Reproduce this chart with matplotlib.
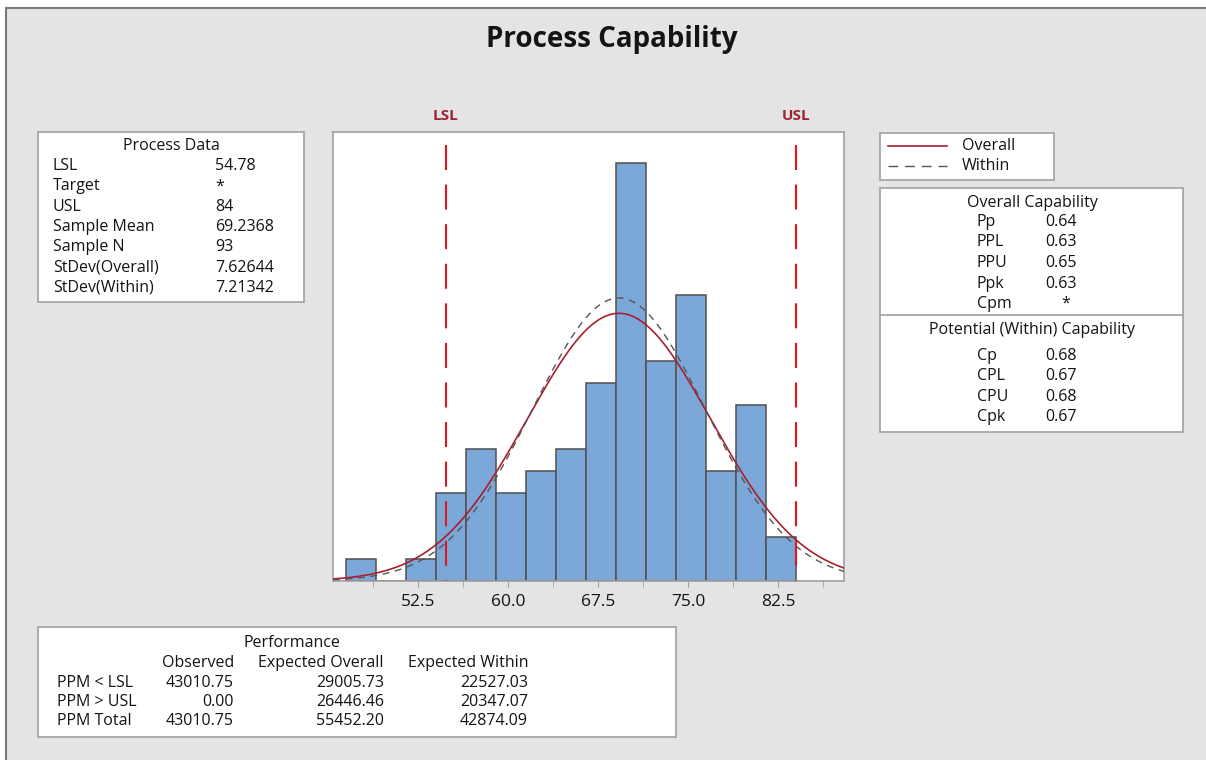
import matplotlib

matplotlib.use("Agg")
import matplotlib.pyplot as plt
import numpy as np
from matplotlib.lines import Line2D
from matplotlib.patches import Rectangle

W, H = 1206, 760
plt.rcParams.update({"font.family": ["Open Sans", "DejaVu Sans"], "font.size": 11.5})

# histogram (counts per 2.5-wide bin)
bin_edges = [46.5, 49.0, 51.5, 54.0, 56.5, 59.0, 61.5, 64.0, 66.5, 69.0,
             71.5, 74.0, 76.5, 79.0, 81.5, 84.0]
counts = [1, 0, 1, 4, 6, 4, 5, 6, 9, 19, 10, 13, 5, 8, 2]

LSL, USL = 54.78, 84.0
mean, n = 69.2368, 93
sd_overall, sd_within = 7.62644, 7.21342

process_labels = ["LSL", "Target", "USL", "Sample Mean", "Sample N",
                  "StDev(Overall)", "StDev(Within)"]
process_values = ["54.78", "*", "84", "69.2368", "93", "7.62644", "7.21342"]

overall_labels = ["Pp", "PPL", "PPU", "Ppk", "Cpm"]
overall_values = ["0.64", "0.63", "0.65", "0.63", "*"]
within_labels = ["Cp", "CPL", "CPU", "Cpk"]
within_values = ["0.68", "0.67", "0.68", "0.67"]

perf_rows = ["PPM < LSL", "PPM > USL", "PPM Total"]
perf_cols = ["Observed", "Expected Overall", "Expected Within"]
perf_observed = ["43010.75", "0.00", "43010.75"]
perf_overall = ["29005.73", "26446.46", "55452.20"]
perf_within = ["22527.03", "20347.07", "42874.09"]

TXT = "#141414"
BOX_EDGE = "#a0a0a0"


def fx(x):
    return x / W


def fy(y):
    return 1 - y / H


def box(fig, x0, y0, x1, y1):
    fig.patches.append(Rectangle((fx(x0), fy(y1)), fx(x1 - x0), (y1 - y0) / H,
                                 transform=fig.transFigure, facecolor="white",
                                 edgecolor=BOX_EDGE, lw=1.2, zorder=1))


def text(fig, x, y, s, **kw):
    kw.setdefault("va", "center")
    kw.setdefault("color", TXT)
    fig.text(fx(x), fy(y), s, zorder=3, **kw)


fig = plt.figure(figsize=(W / 100, H / 100), dpi=100, facecolor="white")
# grey panel with a dark top/left border
fig.patches.append(Rectangle((fx(6), -0.01), 1, fy(7.5) + 0.01, transform=fig.transFigure,
                             facecolor="#e4e4e4", edgecolor="#7a7a7a", lw=1.5, zorder=-5))

text(fig, 612, 40, "Process Capability", ha="center", fontsize=20, fontweight="bold")

# histogram panel
ax = fig.add_axes([fx(333), fy(581), fx(844 - 333), (581 - 132) / H])
ax.set_zorder(2)
ax.bar(bin_edges[:-1], counts, width=np.diff(bin_edges), align="edge",
       color="#7ba7d9", edgecolor="#505050", lw=1.1, zorder=2)
xs = np.linspace(45.4, 88.0, 400)
scale = n * (bin_edges[1] - bin_edges[0])
for sd, style in [(sd_overall, dict(color="#a8202f", lw=1.2)),
                  (sd_within, dict(color="#555555", lw=1.0, dashes=(5, 4)))]:
    ys = scale / (sd * np.sqrt(2 * np.pi)) * np.exp(-0.5 * ((xs - mean) / sd) ** 2)
    ax.plot(xs, ys, zorder=3, **style)
xt = ax.get_xaxis_transform()
for v, lab in [(LSL, "LSL"), (USL, "USL")]:
    # draw top-down so the dash pattern starts at the top
    ax.plot([v, v], [0.971, 0.0], transform=xt, color="#e3141c", lw=1.5,
            dashes=(12, 7), zorder=4, clip_on=False)
    ax.text(v, 1.035, lab, transform=xt, ha="center", va="center",
            color="#9b2335", fontsize=11, fontweight="bold")
ax.set_xlim(45.4, 88.0)
ax.set_ylim(0, 20.4)
ax.set_yticks([])
ax.set_xticks([52.5, 60.0, 67.5, 75.0, 82.5])
ax.set_xticklabels(["52.5", "60.0", "67.5", "75.0", "82.5"])
ax.set_xticks(np.arange(48.75, 88, 7.5), minor=True)
ax.tick_params(axis="x", which="both", length=4, color="#a0a0a0", labelsize=12.5,
               labelcolor=TXT, pad=5)
for sp in ax.spines.values():
    sp.set_color("#a0a0a0")
    sp.set_linewidth(1.2)

# process data box
box(fig, 38, 132, 304, 302)
text(fig, 171, 146, "Process Data", ha="center")
for i, (lab, val) in enumerate(zip(process_labels, process_values)):
    y = 166 + i * 20.3
    text(fig, 53, y, lab)
    text(fig, 215, y, val)

# legend box
box(fig, 880, 133, 1054, 180)
fig.lines.append(Line2D([fx(888), fx(947)], [fy(146), fy(146)],
                        transform=fig.transFigure, color="#a8202f", lw=1.2, zorder=3))
fig.lines.append(Line2D([fx(888), fx(947)], [fy(166), fy(166)],
                        transform=fig.transFigure, color="#555555", lw=1.0,
                        dashes=(7, 5), zorder=3))
text(fig, 962, 146, "Overall")
text(fig, 962, 166, "Within")

# capability box
box(fig, 880, 188, 1183, 432)
fig.lines.append(Line2D([fx(880), fx(1183)], [fy(315), fy(315)],
                        transform=fig.transFigure, color=BOX_EDGE, lw=1.2, zorder=3))
text(fig, 1032, 203, "Overall Capability", ha="center")
for i, (lab, val) in enumerate(zip(overall_labels, overall_values)):
    y = 222 + i * 20.5
    text(fig, 977, y, lab)
    if val == "*":
        text(fig, 1066, y, val, ha="center")
    else:
        text(fig, 1045, y, val)
text(fig, 1032, 330, "Potential (Within) Capability", ha="center")
for i, (lab, val) in enumerate(zip(within_labels, within_values)):
    y = 356 + i * 20.5
    text(fig, 977, y, lab)
    text(fig, 1045, y, val)

# performance box
box(fig, 38, 627, 676, 737)
text(fig, 292, 643, "Performance", ha="center")
col_right = [234, 384, 528]
for x, lab in zip(col_right, perf_cols):
    text(fig, x, 663, lab, ha="right")
for i, row in enumerate(perf_rows):
    y = 683 + i * 19
    text(fig, 57, y, row)
    for x, val in zip(col_right, [perf_observed[i], perf_overall[i], perf_within[i]]):
        text(fig, x, y, val, ha="right")

fig.savefig("out.png", dpi=100, facecolor=fig.get_facecolor())
